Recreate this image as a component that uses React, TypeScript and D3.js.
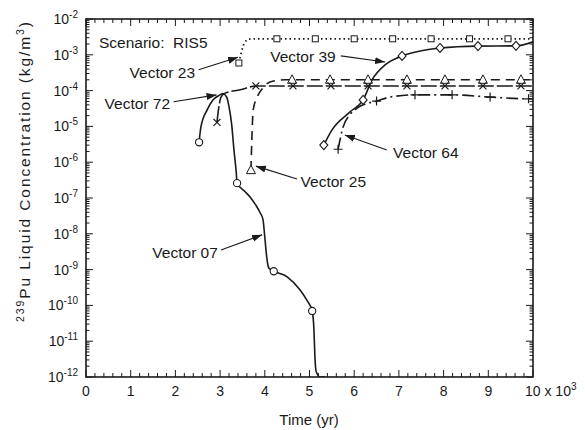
import React from 'react';
import * as d3 from 'd3';

// ---- data (time in 10^3 yr, concentration in kg/m^3) ----
const xTickValues = [0, 1, 2, 3, 4, 5, 6, 7, 8, 9];
const xTickLabels = ['0', '1', '2', '3', '4', '5', '6', '7', '8', '9'];
const yExponents = [-2, -3, -4, -5, -6, -7, -8, -9, -10, -11, -12];

const vector07: [number, number][] = [
  [2.53, 3.6e-6], [2.57, 9.5e-6], [2.71, 2.9e-5], [2.84, 5.5e-5], [3.0, 7.6e-5], [3.06, 8.3e-5],
  [3.15, 6.5e-5], [3.2, 3.5e-5], [3.26, 1.1e-5], [3.31, 2.2e-6], [3.36, 5.4e-7], [3.38, 2.6e-7],
  [3.56, 1.5e-7], [3.67, 1.07e-7], [3.8, 6.3e-8], [3.89, 4e-8], [3.96, 2.5e-8], [4.0, 8e-9],
  [4.05, 1.9e-9], [4.09, 1.1e-9], [4.2, 9e-10], [4.5, 6.3e-10], [4.79, 2.7e-10], [4.94, 1.4e-10],
  [5.06, 7e-11], [5.1, 2e-11], [5.12, 4e-12], [5.15, 1.4e-12], [5.24, 1e-12], [5.35, 1e-12],
];
const vector07Markers: [number, number][] = [[2.53, 3.6e-6], [3.38, 2.6e-7], [4.2, 9e-10], [5.06, 7e-11]];

const vector23: [number, number][] = [
  [3.42, 5.9e-4], [3.47, 1.1e-3], [3.55, 2.2e-3], [3.65, 2.75e-3], [4.0, 2.8e-3], [6.0, 2.8e-3], [8.0, 2.8e-3], [10, 2.8e-3],
];
const vector23Markers: [number, number][] = [
  [3.42, 5.9e-4], [4.27, 2.8e-3], [5.13, 2.8e-3], [6.0, 2.8e-3], [6.86, 2.8e-3], [7.72, 2.8e-3], [8.58, 2.8e-3], [9.44, 2.8e-3],
];

const vector39: [number, number][] = [
  [5.32, 3e-6], [5.5, 7.9e-6], [5.9, 2.5e-5], [6.2, 5.5e-5], [6.4, 2e-4], [6.69, 5.2e-4], [7.07, 9.3e-4],
  [7.5, 1.3e-3], [7.92, 1.55e-3], [8.77, 1.75e-3], [9.62, 1.78e-3], [10, 2.3e-3],
];
const vector39Markers: [number, number][] = [
  [5.32, 3e-6], [6.2, 5.5e-5], [7.07, 9.3e-4], [7.92, 1.55e-3], [8.77, 1.75e-3], [9.62, 1.78e-3],
];

const vector25: [number, number][] = [
  [3.69, 6e-7], [3.71, 4.2e-6], [3.74, 2.9e-5], [3.83, 6.6e-5], [3.96, 1.2e-4], [4.12, 1.75e-4], [4.45, 2e-4], [7, 2e-4], [10, 2e-4],
];
const vector25Markers: [number, number][] = [
  [3.69, 6e-7], [4.61, 2e-4], [5.46, 2e-4], [6.31, 2e-4], [7.18, 2e-4], [8.03, 2e-4], [8.88, 2e-4], [9.73, 2e-4],
];

const vector72: [number, number][] = [
  [2.93, 1.3e-5], [2.98, 4e-5], [3.02, 6.6e-5], [3.11, 8.5e-5], [3.45, 1.05e-4], [3.8, 1.35e-4], [7, 1.35e-4], [10, 1.35e-4],
];
const vector72Markers: [number, number][] = [
  [2.93, 1.3e-5], [3.8, 1.35e-4], [4.63, 1.35e-4], [5.48, 1.35e-4], [6.31, 1.35e-4], [7.18, 1.35e-4], [8.03, 1.35e-4], [8.88, 1.35e-4], [9.73, 1.35e-4],
];

const vector64: [number, number][] = [
  [5.64, 2.3e-6], [5.75, 9.5e-6], [5.9, 2.1e-5], [6.06, 3.2e-5], [6.2, 4e-5], [6.5, 5.1e-5], [6.8, 6.6e-5],
  [7.36, 7.6e-5], [8.19, 7.6e-5], [9.04, 6.6e-5], [9.9, 5.9e-5], [10, 5.9e-5],
];
const vector64Markers: [number, number][] = [
  [5.64, 2.3e-6], [6.5, 5.1e-5], [7.36, 7.6e-5], [8.19, 7.6e-5], [9.04, 6.6e-5], [9.9, 5.9e-5],
];

// annotations: label anchor and arrow (in data coords: time, log10 conc)
type Ann = { text: string; tx: number; ty: number; anchor: 'start' | 'end'; a0: [number, number]; a1: [number, number] };
const annotations: Ann[] = [
  { text: 'Vector 23', tx: 2.44, ty: -3.51, anchor: 'end', a0: [2.52, -3.42], a1: [3.4, -3.07] },
  { text: 'Vector 72', tx: 1.88, ty: -4.37, anchor: 'end', a0: [1.96, -4.31], a1: [2.92, -4.12] },
  { text: 'Vector 39', tx: 4.12, ty: -3.06, anchor: 'start', a0: [5.7, -3.03], a1: [6.69, -3.2] },
  { text: 'Vector 25', tx: 4.8, ty: -6.55, anchor: 'start', a0: [4.72, -6.47], a1: [3.8, -6.11] },
  { text: 'Vector 64', tx: 6.87, ty: -5.74, anchor: 'start', a0: [6.73, -5.66], a1: [5.79, -5.24] },
  { text: 'Vector 07', tx: 2.95, ty: -8.54, anchor: 'end', a0: [3.02, -8.45], a1: [3.94, -8.03] },
];
const scenarioLabel = 'Scenario:\u00a0\u00a0RIS5';

const W = 585;
const H = 430;
const left = 86, right = 533, top = 19, bottom = 377;
const FONT = '"Liberation Sans", Arial, Helvetica, sans-serif';

export default function App() {
  const x = d3.scaleLinear().domain([0, 10]).range([left, right]);
  const y = d3.scaleLog().domain([1e-12, 1e-2]).range([bottom, top]);
  const line = d3.line<[number, number]>()
    .x(d => x(d[0]))
    .y(d => y(Math.max(d[1], 1e-12)))
    .curve(d3.curveMonotoneX);

  const xMinor = d3.range(0, 10.001, 0.2).filter(v => Math.abs(v - Math.round(v)) > 0.01);
  const yMinor: number[] = [];
  for (let e = -12; e < -2; e++) for (let m = 2; m <= 9; m++) yMinor.push(m * Math.pow(10, e));

  const stroke = '#1a1a1a';
  const circle = (d: [number, number], i: number) => (
    <circle key={i} cx={x(d[0])} cy={y(d[1])} r={3.6} fill="#fff" stroke={stroke} strokeWidth={1.1} />
  );
  const square = (d: [number, number], i: number) => (
    <rect key={i} x={x(d[0]) - 3} y={y(d[1]) - 3} width={6} height={6} fill="#fff" stroke={stroke} strokeWidth={1} />
  );
  const diamond = (d: [number, number], i: number) => {
    const cx = x(d[0]), cy = y(d[1]);
    return <path key={i} d={`M${cx},${cy - 4.5}L${cx + 4},${cy}L${cx},${cy + 4.5}L${cx - 4},${cy}Z`} fill="#fff" stroke={stroke} strokeWidth={1.1} />;
  };
  const triangle = (d: [number, number], i: number) => {
    const cx = x(d[0]), cy = y(d[1]);
    return <path key={i} d={`M${cx},${cy - 5}L${cx + 4.5},${cy + 3.5}L${cx - 4.5},${cy + 3.5}Z`} fill="#fff" stroke={stroke} strokeWidth={1} />;
  };
  const cross = (d: [number, number], i: number) => {
    const cx = x(d[0]), cy = y(d[1]);
    return <path key={i} d={`M${cx - 3.5},${cy - 3.5}L${cx + 3.5},${cy + 3.5}M${cx - 3.5},${cy + 3.5}L${cx + 3.5},${cy - 3.5}`} stroke={stroke} strokeWidth={1.2} fill="none" />;
  };
  const plus = (d: [number, number], i: number) => {
    const cx = x(d[0]), cy = y(d[1]);
    return <path key={i} d={`M${cx - 4.5},${cy}L${cx + 4.5},${cy}M${cx},${cy - 4.5}L${cx},${cy + 4.5}`} stroke={stroke} strokeWidth={1.2} fill="none" />;
  };

  return (
    <svg width={W} height={H} style={{ display: 'block', position: 'absolute', left: 0, top: 0, background: '#fff' }} fontFamily={FONT}>
      <defs>
        <marker id="arr" viewBox="0 0 10 8" refX="10" refY="4" markerWidth="10" markerHeight="8" markerUnits="userSpaceOnUse" orient="auto">
          <path d="M0,0.5L10,4L0,7.5Z" fill={stroke} />
        </marker>
        <clipPath id="plotclip">
          <rect x={left} y={top} width={right - left} height={bottom - top} />
        </clipPath>
      </defs>
      <rect x={0} y={0} width={W} height={H} fill="#fff" />

      {/* ticks */}
      <g stroke={stroke} strokeWidth={1}>
        {xTickValues.concat([10]).map(v => (
          <g key={'xm' + v}>
            <line x1={x(v)} x2={x(v)} y1={bottom} y2={bottom - 7} />
            <line x1={x(v)} x2={x(v)} y1={top} y2={top + 7} />
          </g>
        ))}
        {xMinor.map(v => (
          <g key={'xn' + v}>
            <line x1={x(v)} x2={x(v)} y1={bottom} y2={bottom - 4} />
            <line x1={x(v)} x2={x(v)} y1={top} y2={top + 4} />
          </g>
        ))}
        {yExponents.map(e => (
          <g key={'ym' + e}>
            <line x1={left} x2={left + 7} y1={y(Math.pow(10, e))} y2={y(Math.pow(10, e))} />
            <line x1={right} x2={right - 7} y1={y(Math.pow(10, e))} y2={y(Math.pow(10, e))} />
          </g>
        ))}
        {yMinor.map((v, i) => (
          <g key={'yn' + i}>
            <line x1={left} x2={left + 3.5} y1={y(v)} y2={y(v)} />
            <line x1={right} x2={right - 3.5} y1={y(v)} y2={y(v)} />
          </g>
        ))}
      </g>
      <rect x={left} y={top} width={right - left} height={bottom - top} fill="none" stroke={stroke} strokeWidth={1.6} />

      {/* tick labels */}
      {yExponents.map(e => (
        <text key={'yl' + e} x={78} y={y(Math.pow(10, e)) + 5} textAnchor="end" fontSize={14} fill={stroke}>
          10<tspan fontSize={10} dy={-6}>{String(e)}</tspan>
        </text>
      ))}
      {xTickValues.map((v, i) => (
        <text key={'xl' + v} x={x(v)} y={396} textAnchor="middle" fontSize={14} fill={stroke}>{xTickLabels[i]}</text>
      ))}
      <text x={x(10) - 8} y={396} fontSize={14} fill={stroke}>10 x 10<tspan fontSize={10} dy={-6}>3</tspan></text>

      {/* axis titles */}
      <text x={309} y={425} textAnchor="middle" fontSize={15} fill={stroke}>Time (yr)</text>
      <text transform={`translate(30,172) rotate(-90)`} textAnchor="middle" fontSize={15.5} fill={stroke}
        textLength={300} lengthAdjust="spacing">
        <tspan fontSize={10.5} dy={-6}>239</tspan><tspan dy={6}>Pu Liquid Concentration (kg/m</tspan><tspan fontSize={10.5} dy={-6}>3</tspan><tspan dy={6}>)</tspan>
      </text>

      {/* curves */}
      <g clipPath="url(#plotclip)" fill="none" stroke={stroke}>
        <path d={line(vector07) || ''} strokeWidth={1.6} />
        <path d={line(vector23) || ''} strokeWidth={1.8} strokeDasharray="1.5,3" />
        <path d={line(vector39) || ''} strokeWidth={1.6} />
        <path d={line(vector25) || ''} strokeWidth={1.6} strokeDasharray="9,6" />
        <path d={line(vector72) || ''} strokeWidth={1.6} strokeDasharray="16,3" />
        <path d={line(vector64) || ''} strokeWidth={1.6} strokeDasharray="12,4,2,4" />
      </g>
      {vector07Markers.map(circle)}
      {vector23Markers.map(square)}
      {vector39Markers.map(diamond)}
      {vector25Markers.map(triangle)}
      {vector72Markers.map(cross)}
      {vector64Markers.map(plus)}

      {/* annotations */}
      <text x={x(0.29)} y={y(Math.pow(10, -2.67)) + 5} fontSize={15.5} fill={stroke}>{scenarioLabel}</text>
      {annotations.map(a => (
        <g key={a.text}>
          <text x={x(a.tx)} y={y(Math.pow(10, a.ty)) + 5} textAnchor={a.anchor} fontSize={15.5} fill={stroke}>{a.text}</text>
          <line x1={x(a.a0[0])} y1={y(Math.pow(10, a.a0[1]))} x2={x(a.a1[0])} y2={y(Math.pow(10, a.a1[1]))}
            stroke={stroke} strokeWidth={1.1} markerEnd="url(#arr)" />
        </g>
      ))}
    </svg>
  );
}
